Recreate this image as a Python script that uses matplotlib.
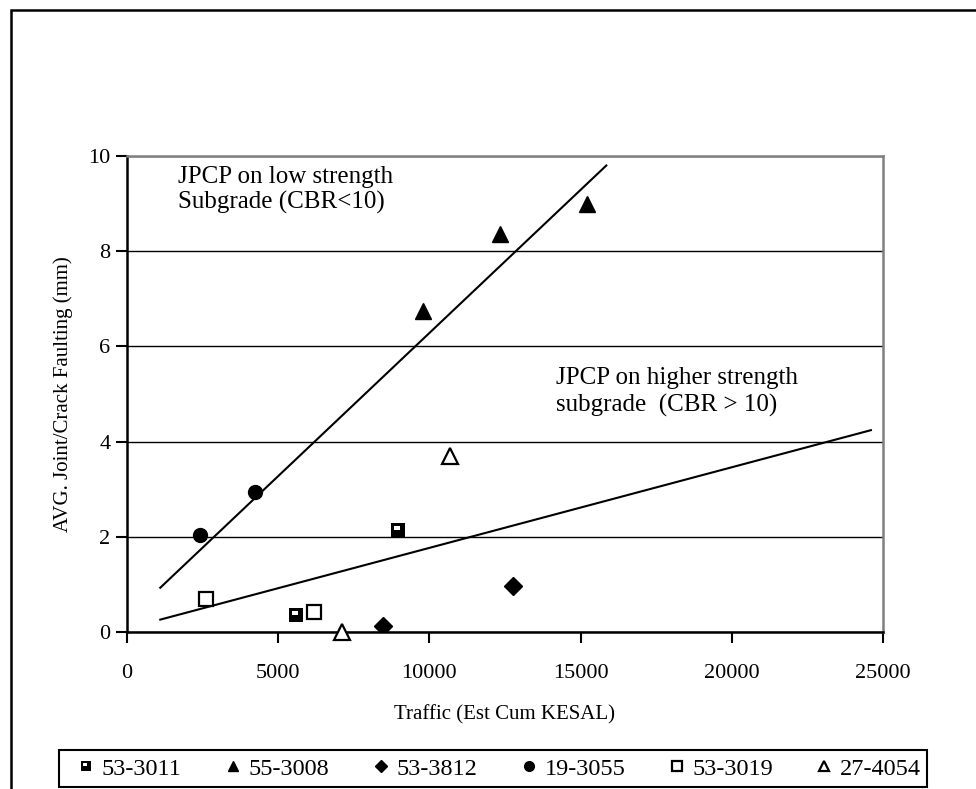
import matplotlib.pyplot as plt
import numpy as np
from matplotlib.path import Path
from matplotlib.patches import Rectangle

plt.rcParams['font.family'] = ['Liberation Serif', 'DejaVu Serif']
plt.rcParams['font.size'] = 16

# ── Data ──────────────────────────────────────────────────────────────────────
labels = ["53-3011", "55-3008", "53-3812", "19-3055", "53-3019", "27-4054"]

x_53_3011 = [5600, 8950]
y_53_3011 = [0.35, 2.15]

x_55_3008 = [9800, 12330, 15200]
y_55_3008 = [6.75, 8.37, 9.0]

x_53_3812 = [8450, 12780]
y_53_3812 = [0.12, 0.97]

x_19_3055 = [2420, 4220]
y_19_3055 = [2.03, 2.95]

x_53_3019 = [2620, 6170]
y_53_3019 = [0.69, 0.43]

x_27_4054 = [7110, 10690]
y_27_4054 = [0.0, 3.70]

# trend lines
low_x = [1100, 15850]
low_y = [0.93, 9.80]
high_x = [1100, 24600]
high_y = [0.26, 4.24]

# square marker with a white notch in the upper-left
outer = [(-1, -1), (1, -1), (1, 1), (-1, 1), (-1, -1)]
inner = [(-0.55, -0.05), (-0.55, 0.55), (0.25, 0.55), (0.25, -0.05), (-0.55, -0.05)]
notch_sq = Path(outer + inner,
                [Path.MOVETO] + [Path.LINETO] * 3 + [Path.CLOSEPOLY]
                + [Path.MOVETO] + [Path.LINETO] * 3 + [Path.CLOSEPOLY])

fig = plt.figure(figsize=(9.76, 7.89), dpi=100)
ax = fig.add_axes([127 / 976, 1 - 632 / 789, 756 / 976, 476 / 789])

# ── Trend lines ───────────────────────────────────────────────────────────────
ax.plot(low_x, low_y, color="black", lw=1.5, zorder=3)
ax.plot(high_x, high_y, color="black", lw=1.5, zorder=3)

# ── Series ────────────────────────────────────────────────────────────────────
ax.plot(x_53_3011, y_53_3011, ls="none", marker=notch_sq, ms=10, mfc="black",
        mec="black", mew=0, label=labels[0], zorder=4)
ax.plot(x_55_3008, y_55_3008, ls="none", marker="^", ms=11, color="black",
        label=labels[1], zorder=4)
ax.plot(x_53_3812, y_53_3812, ls="none", marker="D", ms=9, color="black",
        label=labels[2], zorder=4)
ax.plot(x_19_3055, y_19_3055, ls="none", marker="o", ms=10, color="black",
        label=labels[3], zorder=4)
ax.plot(x_53_3019, y_53_3019, ls="none", marker="s", ms=10, mfc="white",
        mec="black", mew=1.6, label=labels[4], zorder=4)
ax.plot(x_27_4054, y_27_4054, ls="none", marker="^", ms=11, mfc="white",
        mec="black", mew=1.6, label=labels[5], zorder=4, clip_on=False)

# ── Annotations ───────────────────────────────────────────────────────────────
ax.text(1690, 9.80, "JPCP on low strength\nSubgrade (CBR<10)", va="top",
        ha="left", fontsize=18, linespacing=1.2)
ax.text(14190, 5.56, "JPCP on higher strength\nsubgrade  (CBR > 10)", va="top",
        ha="left", fontsize=18, linespacing=1.25)

# ── Axes styling ──────────────────────────────────────────────────────────────
ax.set_xlim(0, 25000)
ax.set_ylim(0, 10)
ax.set_xticks(np.arange(0, 25001, 5000))
ax.set_yticks(np.arange(0, 11, 2))
ax.tick_params(direction="out", length=8, width=1.5, labelsize=16)
ax.tick_params(axis="x", pad=15)
ax.tick_params(axis="y", pad=4)
ax.yaxis.grid(True, color="black", lw=1)
ax.set_axisbelow(True)
for s in ["left", "bottom"]:
    ax.spines[s].set_color("black")
    ax.spines[s].set_linewidth(1.8)
for s in ["top", "right"]:
    ax.spines[s].set_color("#808080")
    ax.spines[s].set_linewidth(1.8)

ax.set_xlabel("Traffic (Est Cum KESAL)", fontsize=15, labelpad=16)
ax.set_ylabel("AVG. Joint/Crack Faulting (mm)", fontsize=15, labelpad=11)

# ── Legend ────────────────────────────────────────────────────────────────────
leg = fig.legend(loc="center", ncol=6, mode="expand",
                 bbox_to_anchor=(74 / 976, 2 / 789, 852 / 976, 37 / 789),
                 borderaxespad=0, frameon=False, markerscale=0.7,
                 handlelength=0.6, handletextpad=0.35, fontsize=17.5,
                 borderpad=0.2)
fig.add_artist(Rectangle((59 / 976, 2 / 789), 868 / 976, 37 / 789,
                         transform=fig.transFigure, fill=False,
                         ec="black", lw=1.5))

# outer frame (runs off the right and bottom of the picture)
fig.add_artist(Rectangle((11 / 976, -0.5), 2.0, 0.5 + 1 - 10 / 789,
                         transform=fig.transFigure, fill=False,
                         ec="black", lw=1.8))

plt.savefig("out.png", dpi=100)
